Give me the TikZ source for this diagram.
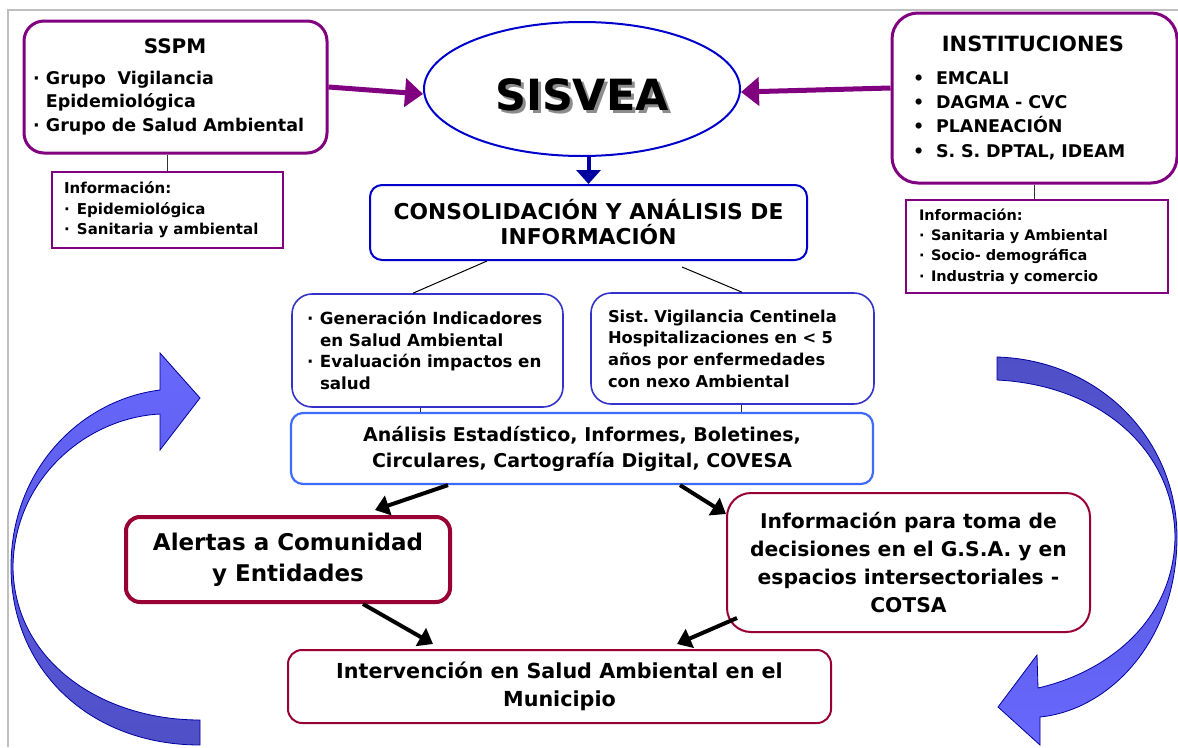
\documentclass[tikz,border=0pt]{standalone}
\usepackage{fontspec}
\setmainfont{DejaVu Sans}
\usetikzlibrary{arrows.meta,shapes.geometric}
\definecolor{sspurple}{HTML}{800080}
\definecolor{ssblue}{HTML}{0000CC}
\definecolor{ssmid}{HTML}{3333CC}
\definecolor{sslight}{HTML}{3D6BFF}
\definecolor{ssred}{HTML}{990033}
\definecolor{ssnavy}{HTML}{0000A0}
\definecolor{sslilac}{HTML}{6868FF}
\definecolor{ssdeep}{HTML}{4F4FC6}
\frenchspacing
\newcommand{\sdot}[1]{\makebox[#1][l]{·}}
\tikzset{txt/.style 2 args={font=\bfseries\fontsize{#1}{#2}\selectfont},
entity/.style={draw=sspurple, line width=3pt, rounded corners=20pt, inner sep=0pt, align=left},
infobox/.style={draw=sspurple, line width=1.8pt, inner sep=0pt, align=left},
midbox/.style={draw=ssmid, line width=1.6pt, rounded corners=20pt, inner sep=0pt, align=left},
outbox/.style={draw=ssred, line width=2pt, rounded corners=16pt, inner sep=0pt, align=center},
fat/.style={-{Triangle[length=18pt,width=28pt]}, line width=5pt, sspurple},
push/.style={-{Triangle[length=14pt,width=20pt]}, line width=4pt, black},
pageline/.style={draw=black!25, line width=1.5pt}}

\begin{document}
\begin{tikzpicture}[x=1pt,y=-1pt]
\useasboundingbox (0,0) rectangle (1178,747);
%\draw [help lines] (0,0) grid (1178,747);
\draw[pageline] (8,747) -- (8,10) -- (1178,10);

% cycle arrows
\shadedraw[top color=sslilac, bottom color=ssdeep, draw=ssnavy, line width=0.8pt]
 (160,353) -- (200,398) -- (160,450) -- (160,414) .. controls (85,418) and (14,480) .. (13,567)
 .. controls (14,660) and (100,720) .. (200,720) -- (200,745) .. controls (90,745) and (11,670) .. (11,567)
 .. controls (11,470) and (80,400) .. (160,390) -- cycle;
\shadedraw[top color=ssdeep, bottom color=sslilac, draw=ssnavy, line width=0.8pt]
 (997,357) .. controls (1100,360) and (1177,440) .. (1177,537) .. controls (1177,640) and (1110,710) .. (1040,717)
 -- (1040,745) -- (998,707) -- (1037,655) -- (1038,688) .. controls (1108,672) and (1174,620) .. (1175,537)
 .. controls (1174,450) and (1100,385) .. (997,380) -- cycle;

% sources
\node[entity, txt={17.5}{23.5}, minimum width=303pt, minimum height=132pt, inner xsep=9pt, text width=285pt] (sspm) at (175.5,87)
 {\makebox[284pt][c]{\fontsize{20}{24}\selectfont SSPM}\\[7pt]
 \sdot{13pt}Grupo\ \ Vigilancia\\ \hspace*{13pt}Epidemiológica\\ \sdot{13pt}Grupo de Salud Ambiental};
\node[entity, txt={17.5}{24.3}, rounded corners=26pt, minimum width=285pt, minimum height=170pt, inner xsep=9pt, text width=267pt] (inst) at (1034.5,98)
 {\makebox[264pt][c]{\fontsize{21}{24}\selectfont INSTITUCIONES}\\[8pt]
 \hspace*{12pt}\makebox[23pt][l]{•}EMCALI\\ \hspace*{12pt}\makebox[23pt][l]{•}DAGMA - CVC\\
 \hspace*{12pt}\makebox[23pt][l]{•}PLANEACIÓN\\ \hspace*{12pt}\makebox[23pt][l]{•}S. S. DPTAL, IDEAM};
\node[infobox, txt={15}{20.5}, minimum width=231pt, minimum height=76pt, inner xsep=12pt, text width=207pt] (infoL) at (167.5,210)
 {Información:\\ \sdot{13pt}Epidemiológica\\ \sdot{13pt}Sanitaria y ambiental};
\node[infobox, txt={14.5}{20.3}, minimum width=262pt, minimum height=93pt, inner xsep=13pt, text width=236pt] (infoR) at (1037,246.5)
 {Información:\\ \sdot{12pt}Sanitaria y Ambiental\\ \sdot{12pt}Socio- demográfica\\ \sdot{12pt}Industria y comercio};

% core
\node[ellipse, draw=ssblue, line width=2pt, minimum width=316pt, minimum height=134pt] (sisvea) at (582,89) {};
\node[txt={43}{48}] (sisveatext) at (582,96)
 {\makebox[0pt][l]{\raisebox{-3pt}{\hspace{3pt}\textcolor{black!45}{SISVEA}}}SISVEA};
\node[draw=ssblue, line width=2pt, rounded corners=12pt, txt={21.8}{25}, align=center, minimum width=437pt, minimum height=75pt] (cons) at (588.5,222.5)
 {CONSOLIDACIÓN Y ANÁLISIS DE\\ INFORMACIÓN};
\node[midbox, txt={16.7}{21.7}, minimum width=271pt, minimum height=113pt, inner xsep=15pt, text width=241pt] (gen) at (427.5,350.5)
 {\sdot{13pt}Generación Indicadores\\ \hspace*{13pt}en Salud Ambiental\\ \sdot{13pt}Evaluación impactos en\\ \hspace*{13pt}salud};
\node[midbox, txt={16.3}{21.7}, minimum width=283pt, minimum height=111pt, inner xsep=17pt, text width=249pt] (cent) at (732.5,348.5)
 {Sist. Vigilancia Centinela\\ Hospitalizaciones en < 5\\ años por enfermedades\\ con nexo Ambiental};
\node[draw=sslight, line width=2.2pt, rounded corners=12pt, txt={19}{26}, align=center, minimum width=582pt, minimum height=71pt] (ana) at (582,448.5)
 {Análisis Estadístico, Informes, Boletines,\\ Circulares, Cartografía Digital, COVESA};

% outputs
\node[outbox, line width=4pt, rounded corners=14pt, txt={23}{31}, minimum width=324pt, minimum height=85pt] (alert) at (288,559.5)
 {Alertas a Comunidad\\ y Entidades};
\node[outbox, rounded corners=24pt, txt={20.3}{28}, minimum width=363pt, minimum height=139pt] (toma) at (908.5,562.5)
 {Información para toma de\\ decisiones en el G.S.A. y en\\ espacios intersectoriales -\\ COTSA};
\node[outbox, rounded corners=14pt, txt={20.7}{28}, minimum width=543pt, minimum height=73pt] (interv) at (559.5,686.5)
 {Intervención en Salud Ambiental en el\\ Municipio};

% links
\draw[black!80, line width=1pt] (sspm.south -| infoL.north) -- (infoL.north);
\draw[black!80, line width=1pt] (inst.south) -- (inst.south |- infoR.north);
\draw[fat] (sspm.east) -- ([yshift=-5pt]sisvea.west);
\draw[fat] ([yshift=10pt]inst.west) -- ([yshift=-3pt]sisvea.east);
\draw[ssnavy, line width=4pt, -{Triangle[length=14pt,width=24pt]}] (sisvea.south -| cons.north) -- (cons.north);
\draw[black, line width=1pt] ([xshift=-101.5pt]cons.south) -- ([xshift=-14.5pt]gen.north);
\draw[black, line width=1pt] ([xshift=93.5pt,yshift=-6pt]cons.south) -- ([xshift=9.5pt]cent.north);
\draw[black!80, line width=1pt] ([xshift=-7.5pt]gen.south) -- ([xshift=-7.5pt]gen.south |- ana.north);
\draw[black!80, line width=1pt] ([xshift=8.5pt]cent.south) -- ([xshift=8.5pt]cent.south |- ana.north);
\draw[push] ([xshift=-134pt]ana.south) -- ([xshift=87pt,yshift=5pt]alert.north);
\draw[push] ([xshift=98pt]ana.south) -- ([yshift=-22pt]toma.north west);
\draw[push] ([xshift=75pt]alert.south) -- ([xshift=-126.5pt,yshift=5pt]interv.north);
\draw[push] ([xshift=11pt,yshift=15pt]toma.south west) -- ([xshift=117.5pt,yshift=5pt]interv.north);
\end{tikzpicture}
\end{document}
